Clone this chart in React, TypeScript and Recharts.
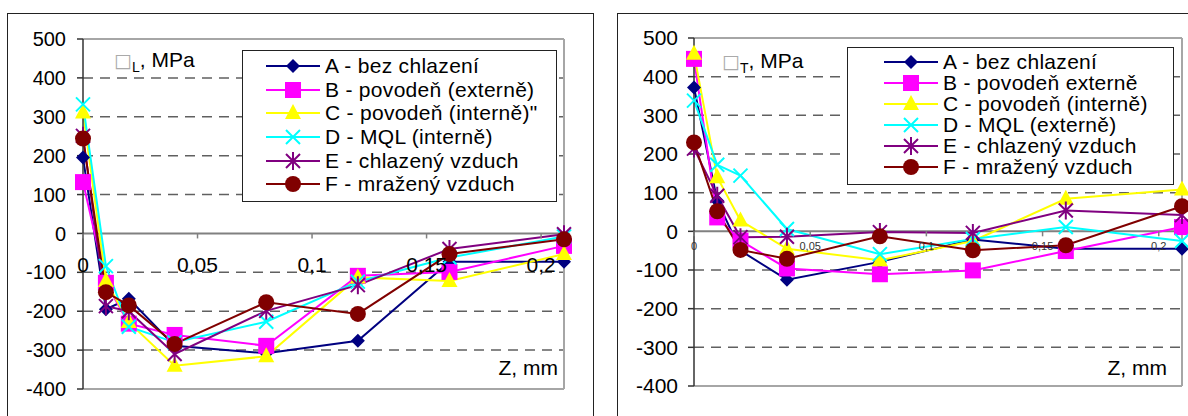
import React from 'react';
import { LineChart, Line, XAxis, YAxis, ReferenceLine, Legend } from 'recharts';

const SANS = '"Liberation Sans", Arial, sans-serif';

// depth z (mm) at which the stress was measured
const zValues = [0, 0.01, 0.02, 0.04, 0.08, 0.12, 0.16, 0.21];
const zTicks = [0, 0.05, 0.1, 0.15, 0.2];
const stressTicks = [-400, -300, -200, -100, 0, 100, 200, 300, 400, 500];
const gridLevels = [-300, -200, -100, 100, 200, 300, 400];

// sigma L (longitudinal), MPa
const longA = [195, -195, -168, -289, -308, -276, -73, -73];
const longB = [132, -127, -232, -261, -289, -109, -99, -32];
const longC = [311, -122, -228, -340, -316, -113, -122, -53];
const longD = [332, -84, -240, -280, -227, -124, -62, -8];
const longE = [251, -187, -200, -310, -199, -133, -40, -2];
const longF = [244, -151, -185, -284, -177, -207, -53, -15];

// sigma T (transversal), MPa
const transA = [372, 79, -50, -125, -79, -21, -45, -45];
const transB = [446, 36, -24, -96, -111, -101, -51, 11];
const transC = [459, 140, 28, -45, -75, -25, 84, 108];
const transD = [338, 172, 144, 6, -59, -20, 11, -25];
const transE = [214, 92, -15, -14, -2, -4, 54, 42];
const transF = [230, 52, -48, -71, -13, -49, -36, 65];

const namesLong = [
  'A - bez chlazení',
  'B - povodeň (externě)',
  'C - povodeň (interně)"',
  'D - MQL (interně)',
  'E - chlazený vzduch',
  'F - mražený vzduch',
];
const namesTrans = [
  'A - bez chlazení',
  'B - povodeň externě',
  'C - povodeň (interně)',
  'D - MQL (externě)',
  'E - chlazený vzduch',
  'F - mražený vzduch',
];

const seriesKeys = ['A', 'B', 'C', 'D', 'E', 'F'];
const seriesColors = ['#000080', '#ff00ff', '#ffff00', '#00ffff', '#800080', '#800000'];
const seriesShapes = ['diamond', 'square', 'triangle', 'cross', 'star', 'circle'];

const buildRows = (cols: number[][]) =>
  zValues.map((z, i) => {
    const row: Record<string, number> = { z };
    seriesKeys.forEach((k, j) => (row[k] = cols[j][i]));
    return row;
  });

const longRows = buildRows([longA, longB, longC, longD, longE, longF]);
const transRows = buildRows([transA, transB, transC, transD, transE, transF]);

const Marker = ({ shape, cx, cy, color }: any) => {
  switch (shape) {
    case 'diamond':
      return <path d={`M${cx},${cy - 7}L${cx + 7},${cy}L${cx},${cy + 7}L${cx - 7},${cy}Z`} fill={color} />;
    case 'square':
      return <rect x={cx - 8} y={cy - 8} width={16} height={16} fill={color} />;
    case 'triangle':
      return <path d={`M${cx},${cy - 9}L${cx + 8},${cy + 6}L${cx - 8},${cy + 6}Z`} fill={color} />;
    case 'cross':
      return (
        <path d={`M${cx - 7},${cy - 7}L${cx + 7},${cy + 7}M${cx - 7},${cy + 7}L${cx + 7},${cy - 7}`} stroke={color} strokeWidth={2} />
      );
    case 'star':
      return (
        <path
          d={`M${cx - 7},${cy - 7}L${cx + 7},${cy + 7}M${cx - 7},${cy + 7}L${cx + 7},${cy - 7}M${cx},${cy - 9}L${cx},${cy + 9}`}
          stroke={color}
          strokeWidth={2}
        />
      );
    default:
      return <circle cx={cx} cy={cy} r={8} fill={color} />;
  }
};

const LegendBox = ({ names, pad, rowH, top, fontSize }: any) => (
  <div
    style={{
      width: '100%',
      height: '100%',
      boxSizing: 'border-box',
      border: '1.5px solid #222',
      background: '#fff',
      paddingLeft: pad,
      paddingTop: top,
      fontFamily: SANS,
      fontSize,
      color: '#000',
    }}
  >
    {names.map((n: string, i: number) => (
      <div key={n} style={{ height: rowH, display: 'flex', alignItems: 'center', whiteSpace: 'nowrap' }}>
        <svg width={56} height={20} style={{ flex: 'none', marginRight: 3 }}>
          <line x1={0} x2={54} y1={10} y2={10} stroke={seriesColors[i]} strokeWidth={2} />
          <Marker shape={seriesShapes[i]} cx={27} cy={10} color={seriesColors[i]} />
        </svg>
        <span style={{ letterSpacing: 0.3 }}>{n}</span>
      </div>
    ))}
  </div>
);

interface PanelProps {
  rows: Record<string, number>[];
  names: string[];
  width: number;
  height: number;
  top: number;
  right: number;
  yAxisWidth: number;
  xAxisHeight: number;
  yFont: number;
  yMargin: number;
  zFont: number;
  zDy: number;
  zColor: string;
  legend: { left: number; top: number; width: number; height: number; pad: number; rowH: number; padTop: number };
}

const Panel = (p: PanelProps) => {
  const yMin = stressTicks[0];
  const yMax = stressTicks[stressTicks.length - 1];
  const plotH = p.height - p.top - p.xAxisHeight;
  const zeroShift = (plotH * (0 - yMin)) / (yMax - yMin);

  const renderZTick = (t: any) => {
    const y0 = t.y - zeroShift;
    return (
      <g key={t.index}>
        <line x1={t.x} x2={t.x} y1={y0} y2={y0 + 5} stroke="#808080" strokeWidth={1.5} />
        <text x={t.x} y={y0 + p.zDy} textAnchor="middle" fontSize={p.zFont} fontFamily={SANS} fill={p.zColor}>
          {String(t.payload.value).replace('.', ',')}
        </text>
      </g>
    );
  };

  return (
    <LineChart
      width={p.width}
      height={p.height}
      data={p.rows}
      margin={{ top: p.top, right: p.right, left: 0, bottom: 0 }}
    >
      <XAxis
        dataKey="z"
        type="number"
        domain={[0, zValues[zValues.length - 1]]}
        ticks={zTicks}
        axisLine={false}
        tickLine={false}
        tickSize={0}
        tickMargin={0}
        height={p.xAxisHeight}
        tick={renderZTick}
        interval={0}
      />
      <YAxis
        type="number"
        domain={[yMin, yMax]}
        ticks={stressTicks}
        width={p.yAxisWidth}
        tickSize={6}
        tickMargin={p.yMargin}
        axisLine={{ stroke: '#333', strokeWidth: 1.5 }}
        tickLine={{ stroke: '#333', strokeWidth: 1.5 }}
        tick={{ fontSize: p.yFont, fill: '#000', fontFamily: SANS }}
        interval={0}
      />
      {gridLevels.map((g) => (
        <ReferenceLine key={g} y={g} stroke="#606060" strokeWidth={1.5} strokeDasharray="10 7" />
      ))}
      <ReferenceLine y={yMax} stroke="#a6a6a6" strokeWidth={2} />
      <ReferenceLine y={yMin} stroke="#a6a6a6" strokeWidth={2} />
      <ReferenceLine x={zValues[zValues.length - 1]} stroke="#a6a6a6" strokeWidth={2} />
      <ReferenceLine y={0} stroke="#808080" strokeWidth={2} />
      <Legend
        layout="vertical"
        align="center"
        verticalAlign="middle"
        wrapperStyle={{ left: p.legend.left, top: p.legend.top, width: p.legend.width, height: p.legend.height }}
        content={() => (
          <LegendBox names={p.names} pad={p.legend.pad} rowH={p.legend.rowH} top={p.legend.padTop} fontSize={21} />
        )}
      />
      {seriesKeys.map((k, i) => (
        <Line
          key={k}
          dataKey={k}
          name={p.names[i]}
          type="linear"
          stroke={seriesColors[i]}
          strokeWidth={2}
          isAnimationActive={false}
          activeDot={false}
          dot={(d: any) => (
            <Marker key={`${k}-${d.index}`} shape={seriesShapes[i]} cx={d.cx} cy={d.cy} color={seriesColors[i]} />
          )}
        />
      ))}
    </LineChart>
  );
};

const textStyle: React.CSSProperties = {
  position: 'absolute',
  fontFamily: SANS,
  fontSize: 21,
  color: '#000',
  whiteSpace: 'nowrap',
  lineHeight: '22px',
};

const App = () => (
  <div style={{ position: 'absolute', left: 0, top: 0, width: 1188, height: 416, overflow: 'hidden', background: '#fff' }}>
    <div style={{ position: 'absolute', left: 7, top: 13, width: 587, height: 420, border: '1.5px solid #222', boxSizing: 'border-box' }} />
    <div style={{ position: 'absolute', left: 617, top: 13, width: 600, height: 420, border: '1.5px solid #222', boxSizing: 'border-box' }} />

    <div style={{ position: 'absolute', left: 0, top: 0 }}>
      <Panel
        rows={longRows}
        names={namesLong}
        width={600}
        height={416}
        top={39}
        right={36}
        yAxisWidth={83}
        xAxisHeight={27}
        yFont={20}
        yMargin={11}
        zFont={21}
        zDy={39}
        zColor="#000"
        legend={{ left: 242, top: 50, width: 315, height: 152, pad: 23, rowH: 23.7, padTop: 3 }}
      />
    </div>
    <div style={{ position: 'absolute', left: 600, top: 0 }}>
      <Panel
        rows={transRows}
        names={namesTrans}
        width={588}
        height={416}
        top={38}
        right={6}
        yAxisWidth={94}
        xAxisHeight={30}
        yFont={21}
        yMargin={10}
        zFont={11}
        zDy={19}
        zColor="#333"
        legend={{ left: 247, top: 47, width: 327, height: 138, pad: 36, rowH: 21.1, padTop: 3 }}
      />
    </div>

    <div style={{ ...textStyle, left: 114, top: 49 }}>
      <span style={{ color: '#aaa', fontFamily: '"DejaVu Sans"', fontSize: 19 }}>□</span>
      <sub style={{ fontSize: 14 }}>L</sub>, MPa
    </div>
    <div style={{ ...textStyle, left: 722, top: 50 }}>
      <span style={{ color: '#aaa', fontFamily: '"DejaVu Sans"', fontSize: 19 }}>□</span>
      <sub style={{ fontSize: 14 }}>T</sub>, MPa
    </div>
    <div style={{ ...textStyle, left: 458, top: 357, width: 100, textAlign: 'right' }}>Z, mm</div>
    <div style={{ ...textStyle, left: 1067, top: 357, width: 100, textAlign: 'right' }}>Z, mm</div>
  </div>
);

export default App;
